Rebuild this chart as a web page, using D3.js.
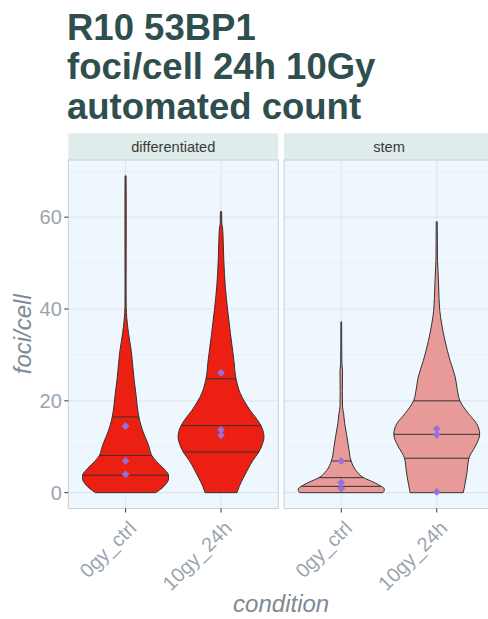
<!DOCTYPE html>
<html>
<head>
<meta charset="utf-8">
<script src="https://cdn.jsdelivr.net/npm/d3@7"></script>
<style>
  html, body { margin: 0; padding: 0; background: #ffffff; }
  svg { display: block; }
  text { font-family: "Liberation Sans", Arial, sans-serif; }
</style>
</head>
<body>
<svg id="chart" width="488" height="619"></svg>
<script>
// ---- data -------------------------------------------------------------
const titleLines = ["R10 53BP1", "foci/cell 24h 10Gy", "automated count"];
const facets = ["differentiated", "stem"];
const conditions = ["0gy_ctrl", "10gy_24h"];
const yTicks = [0, 20, 40, 60];
const yMinor = [10, 30, 50, 70];
const facetFills = ["#EC2012", "#E89A98"];

// density profiles: [foci/cell, relative half-width (1 = widest)]
const densDiff0gy = [
  [0, 0.70], [1.0, 0.85], [2.0, 0.95], [3.0, 1.0], [3.8, 1.0], [4.8, 0.93],
  [5.6, 0.85], [6.8, 0.72], [8.1, 0.61], [9.5, 0.56], [10.7, 0.52], [12.5, 0.44],
  [14.3, 0.37], [16.5, 0.31], [19.0, 0.27], [21.6, 0.24], [24.5, 0.20], [27.4, 0.17],
  [31.0, 0.13], [34.6, 0.07], [37.9, 0.03], [40.5, 0.014], [45, 0.012], [55, 0.014],
  [65, 0.014], [69, 0.012]
];
const densDiff10gy = [
  [0, 0.37], [1.5, 0.43], [3.4, 0.53], [5.2, 0.63], [7.0, 0.74], [8.85, 0.88],
  [10.5, 0.96], [12.1, 1.0], [13.4, 0.98], [14.6, 0.93], [16.2, 0.82], [17.9, 0.68],
  [19.8, 0.55], [21.6, 0.45], [24.8, 0.35], [28.8, 0.30], [34.6, 0.22], [39.7, 0.155],
  [44.8, 0.10], [50.6, 0.065], [55.0, 0.05], [57.9, 0.035], [58.5, 0.018], [61.2, 0.015]
];
const densStem0gy = [
  [0, 0.97], [0.5, 1.0], [0.87, 1.0], [1.37, 0.93], [2.33, 0.74], [3.27, 0.52],
  [4.86, 0.34], [6.9, 0.23], [9.95, 0.17], [12.85, 0.12], [15.0, 0.08], [17.2, 0.055],
  [18.7, 0.03], [22.0, 0.025], [26.6, 0.03], [28.1, 0.014], [33.0, 0.01], [37.2, 0.008]
];
const densStem10gy = [
  [0, 0.62], [2.0, 0.66], [4.1, 0.70], [7.5, 0.75], [9.95, 0.89], [11.5, 0.97],
  [12.7, 1.0], [15.0, 0.93], [17.2, 0.74], [20.0, 0.54], [23.0, 0.47], [25.2, 0.43],
  [28.8, 0.31], [33.2, 0.19], [36.5, 0.12], [39.7, 0.07], [44.8, 0.045], [49.2, 0.025],
  [50.6, 0.018], [55.0, 0.014], [59.0, 0.012]
];

// 25 / 50 / 75 % quantiles
const quantDiff0gy = [3.8, 8.1, 16.5];
const quantDiff10gy = [8.85, 14.6, 24.8];
const quantStem0gy = [1.37, 3.27, 6.9];
const quantStem10gy = [7.5, 12.7, 20.0];

// per-replicate summary points
const repDiff0gy = [14.5, 6.9, 4.0];
const repDiff10gy = [26.1, 13.7, 12.5];
const repStem0gy = [6.9, 2.2, 0.9];
const repStem10gy = [13.9, 12.6, 0.15];

const groups = [
  { facet: 0, cond: "0gy_ctrl", dens: densDiff0gy, q: quantDiff0gy, reps: repDiff0gy },
  { facet: 0, cond: "10gy_24h", dens: densDiff10gy, q: quantDiff10gy, reps: repDiff10gy },
  { facet: 1, cond: "0gy_ctrl", dens: densStem0gy, q: quantStem0gy, reps: repStem0gy },
  { facet: 1, cond: "10gy_24h", dens: densStem10gy, q: quantStem10gy, reps: repStem10gy }
];

// ---- layout -----------------------------------------------------------
const svg = d3.select("#chart");
const panelTop = 160, panelBottom = 508.5;
const panelW = 210;
const panelLefts = [68.3, 284];
const stripTop = 133.3;

const y = d3.scaleLinear().domain([-3.45, 72.45]).range([panelBottom, panelTop]);
const xScales = panelLefts.map(l =>
  d3.scalePoint().domain(conditions).range([l, l + panelW]).padding(0.6));
const unit = panelW / 2.2;
const halfMax = 0.45 * unit;

// title
svg.append("text")
  .attr("x", 67)
  .attr("fill", "#2F4F4F")
  .attr("font-weight", "bold")
  .attr("font-size", 36.5)
  .selectAll("tspan").data(titleLines).join("tspan")
  .attr("x", 67)
  .attr("y", (d, i) => 40 + i * 39.3)
  .text(d => d);

// panels
facets.forEach((f, fi) => {
  const x = xScales[fi];
  const left = panelLefts[fi];
  const g = svg.append("g");

  // strip
  g.append("rect")
    .attr("x", left).attr("y", stripTop)
    .attr("width", panelW).attr("height", panelTop - stripTop)
    .attr("fill", "#DFECEB");
  g.append("text")
    .attr("x", left + panelW / 2).attr("y", 151.5)
    .attr("text-anchor", "middle")
    .attr("font-size", 14.6)
    .attr("fill", "#3A3A3A")
    .text(f);

  // background
  g.append("rect")
    .attr("x", left).attr("y", panelTop)
    .attr("width", panelW).attr("height", panelBottom - panelTop)
    .attr("fill", "#EFF7FE");

  // grid
  g.selectAll(".minor").data(yMinor).join("line")
    .attr("x1", left).attr("x2", left + panelW)
    .attr("y1", d => y(d)).attr("y2", d => y(d))
    .attr("stroke", "#E3EDF2").attr("stroke-width", 0.6);
  g.selectAll(".majorY").data(yTicks).join("line")
    .attr("x1", left).attr("x2", left + panelW)
    .attr("y1", d => y(d)).attr("y2", d => y(d))
    .attr("stroke", "#DCE7EC").attr("stroke-width", 1.1);
  g.selectAll(".majorX").data(conditions).join("line")
    .attr("x1", d => x(d)).attr("x2", d => x(d))
    .attr("y1", panelTop).attr("y2", panelBottom)
    .attr("stroke", "#DCE7EC").attr("stroke-width", 1.1);

  // violins
  const clip = "clip" + fi;
  svg.append("clipPath").attr("id", clip).append("rect")
    .attr("x", left).attr("y", panelTop).attr("width", panelW).attr("height", panelBottom - panelTop);
  const body = g.append("g").attr("clip-path", `url(#${clip})`);

  groups.filter(d => d.facet === fi).forEach(grp => {
    const cx = x(grp.cond);
    const area = d3.area()
      .y(d => y(d[0]))
      .x0(d => cx - d[1] * halfMax)
      .x1(d => cx + d[1] * halfMax)
      .curve(d3.curveMonotoneY);
    body.append("path")
      .datum(grp.dens)
      .attr("d", area)
      .attr("fill", facetFills[fi])
      .attr("stroke", "#333333")
      .attr("stroke-width", 1)
      .attr("stroke-linejoin", "round");

    // quantile lines spanning the violin width
    const vals = grp.dens.map(d => d[0]);
    const widths = grp.dens.map(d => d[1]);
    const widthAt = d3.scaleLinear().domain(vals).range(widths);
    body.selectAll(null).data(grp.q).join("line")
      .attr("x1", d => cx - widthAt(d) * halfMax)
      .attr("x2", d => cx + widthAt(d) * halfMax)
      .attr("y1", d => y(d)).attr("y2", d => y(d))
      .attr("stroke", "#333333").attr("stroke-width", 1);

    // replicate points
    body.selectAll(null).data(grp.reps).join("path")
      .attr("d", d3.symbol(d3.symbolSquare, 30))
      .attr("transform", d => `translate(${cx},${y(d)}) rotate(45)`)
      .attr("fill", "#9370DB");
  });

  // border
  g.append("rect")
    .attr("x", left).attr("y", panelTop)
    .attr("width", panelW).attr("height", panelBottom - panelTop)
    .attr("fill", "none").attr("stroke", "#C6D0D6").attr("stroke-width", 1);

  // x ticks + labels
  g.selectAll(".xt").data(conditions).join("line")
    .attr("x1", d => x(d)).attr("x2", d => x(d))
    .attr("y1", panelBottom).attr("y2", panelBottom + 4)
    .attr("stroke", "#333333").attr("stroke-width", 1);
  g.selectAll(".xl").data(conditions).join("text")
    .attr("transform", d => `translate(${x(d) + 12},${panelBottom + 21}) rotate(-45)`)
    .attr("text-anchor", "end")
    .attr("font-size", 20)
    .attr("fill", "#9AA4AF")
    .text(d => d);
});

// y axis (left panel only)
const yAxisG = svg.append("g");
yAxisG.selectAll("line").data(yTicks).join("line")
  .attr("x1", panelLefts[0] - 4).attr("x2", panelLefts[0])
  .attr("y1", d => y(d)).attr("y2", d => y(d))
  .attr("stroke", "#333333").attr("stroke-width", 1);
yAxisG.selectAll("text").data(yTicks).join("text")
  .attr("x", panelLefts[0] - 6.5)
  .attr("y", d => y(d))
  .attr("dy", "0.36em")
  .attr("text-anchor", "end")
  .attr("font-size", 20)
  .attr("fill", "#9AA4AF")
  .text(d => d);

// axis titles
svg.append("text")
  .attr("transform", `translate(31,${(panelTop + panelBottom) / 2}) rotate(-90)`)
  .attr("text-anchor", "middle")
  .attr("font-size", 24)
  .attr("font-style", "italic")
  .attr("fill", "#7F8994")
  .text("foci/cell");
svg.append("text")
  .attr("x", (panelLefts[0] + panelLefts[1] + panelW) / 2)
  .attr("y", 612)
  .attr("text-anchor", "middle")
  .attr("font-size", 24)
  .attr("font-style", "italic")
  .attr("fill", "#7F8994")
  .text("condition");
</script>
</body>
</html>
